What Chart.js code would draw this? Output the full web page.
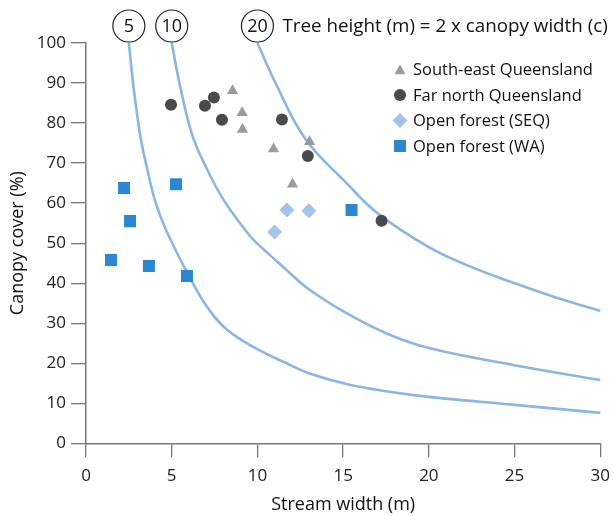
<!DOCTYPE html>
<html>
<head>
<meta charset="utf-8">
<script src="https://cdn.jsdelivr.net/npm/chart.js@4.4.1/dist/chart.umd.min.js"></script>
<style>
  html, body { margin: 0; padding: 0; background: #fff; }
  #wrap { width: 614px; height: 516px; }
</style>
</head>
<body>
<div id="wrap"><canvas id="myChart"></canvas></div>
<script>
// scatter series
const seQldX = [8.55, 9.11, 9.13, 10.94, 12.05, 13.04];
const seQldY = [88.1, 82.6, 78.4, 73.5, 64.7, 75.3];
const farNorthX = [4.96, 6.94, 7.46, 7.93, 11.43, 12.94, 17.24];
const farNorthY = [84.6, 84.3, 86.4, 80.8, 80.9, 71.8, 55.6];
const openSeqX = [11.0, 11.72, 13.0];
const openSeqY = [52.8, 58.3, 58.1];
const openWaX = [2.22, 2.57, 1.46, 3.67, 5.89, 5.25, 15.49];
const openWaY = [63.8, 55.5, 45.8, 44.3, 41.8, 64.7, 58.3];

// the three reference curves
const curve5X = [2.5, 2.8, 3.2, 3.6, 4, 4.5, 5, 5.8, 7, 8.2, 10, 11.7, 13, 15.2, 17.5, 20, 25, 30];
const curve5Y = [100, 88, 76, 68, 61, 55, 50.3, 43.5, 34.5, 28.5, 23.5, 20, 17.5, 14.8, 13, 11.6, 9.6, 7.6];
const curve10X = [5, 5.5, 6.2, 7, 8, 9.3, 9.8, 11.7, 13, 15.2, 17.5, 20, 25, 30];
const curve10Y = [100, 89, 77, 69, 61, 53.2, 50.7, 43.3, 38.5, 32.5, 27.5, 23.8, 19.5, 15.8];
const curve20X = [10, 11, 12.8, 15.2, 17, 20, 22.5, 25, 27.5, 30];
const curve20Y = [100, 90.5, 76, 65, 57.5, 49, 44, 40, 36.3, 33.1];

const curveLabels = ['5', '10', '20'];
const curveTitle = 'Tree height (m) = 2 x canopy width (c)';
const seriesNames = ['South-east Queensland', 'Far north Queensland', 'Open forest (SEQ)', 'Open forest (WA)'];

const xTitle = 'Stream width (m)';
const yTitle = 'Canopy cover (%)';

const FONT = '"Open Sans", "Noto Sans", sans-serif';

function toPoints(xs, ys) {
    return xs.map((x, i) => ({ x: x, y: ys[i] }));
}

const curveColor = '#8ab6e4';
const markerStyles = [
    { style: 'triangle', radius: 6.5, color: '#9b9b9b' },
    { style: 'circle', radius: 6, color: '#4a4a4a' },
    { style: 'rectRot', radius: 7.5, color: '#a3c3ea' },
    { style: 'rect', radius: 8.5, color: '#2b88d0' }
];

function markerSet(label, xs, ys, m) {
    return {
        label: label,
        data: toPoints(xs, ys),
        pointStyle: m.style,
        pointRadius: m.radius,
        pointHoverRadius: m.radius,
        pointBackgroundColor: m.color,
        pointBorderColor: m.color,
        pointBorderWidth: 0,
        showLine: false
    };
}

function curveSet(label, xs, ys) {
    return {
        label: label,
        data: toPoints(xs, ys),
        showLine: true,
        borderColor: curveColor,
        borderWidth: 2.6,
        pointRadius: 0,
        tension: 0.4,
        clip: false
    };
}

const curves = [toPoints(curve5X, curve5Y), toPoints(curve10X, curve10Y), toPoints(curve20X, curve20Y)];

// draws a marker shape (used for the legend)
function drawMarker(ctx, m, x, y) {
    const r = m.radius;
    ctx.fillStyle = m.color;
    ctx.beginPath();
    if (m.style === 'triangle') {
        ctx.moveTo(x, y - r);
        ctx.lineTo(x + r * Math.sin(2 * Math.PI / 3), y - r * Math.cos(2 * Math.PI / 3));
        ctx.lineTo(x + r * Math.sin(4 * Math.PI / 3), y - r * Math.cos(4 * Math.PI / 3));
    } else if (m.style === 'circle') {
        ctx.arc(x, y, r, 0, Math.PI * 2);
    } else if (m.style === 'rectRot') {
        ctx.moveTo(x - r, y);
        ctx.lineTo(x, y - r);
        ctx.lineTo(x + r, y);
        ctx.lineTo(x, y + r);
    } else {
        const s = r * Math.SQRT1_2;
        ctx.rect(x - s, y - s, 2 * s, 2 * s);
    }
    ctx.closePath();
    ctx.fill();
}

const annotations = {
    id: 'annotations',
    afterDraw(chart) {
        const { ctx, chartArea, scales: { x } } = chart;
        ctx.save();

        // circled curve labels above the plot
        const cy = chartArea.top - 17;
        ctx.font = '18px ' + FONT;
        ctx.textBaseline = 'middle';
        ctx.textAlign = 'center';
        let lastX = 0;
        curveLabels.forEach((label, i) => {
            const cx = x.getPixelForValue(curves[i][0].x);
            ctx.beginPath();
            ctx.arc(cx, cy, 16, 0, Math.PI * 2);
            ctx.fillStyle = '#fff';
            ctx.fill();
            ctx.strokeStyle = '#222';
            ctx.lineWidth = 1.2;
            ctx.stroke();
            ctx.fillStyle = '#111';
            ctx.fillText(label, cx, cy + 1);
            lastX = cx;
        });
        ctx.textAlign = 'left';
        ctx.font = '18.8px ' + FONT;
        ctx.fillText(curveTitle, lastX + 25, cy + 1);

        // legend
        ctx.font = '16.5px ' + FONT;
        const lx = 400;
        const rows = [69.5, 95, 120.5, 146];
        seriesNames.forEach((name, i) => {
            drawMarker(ctx, markerStyles[i], lx, rows[i] + (i === 0 ? 1.5 : 0));
            ctx.fillStyle = '#111';
            ctx.fillText(name, lx + 13, rows[i] + 1);
        });
        ctx.restore();
    }
};

const ctx = document.getElementById('myChart').getContext('2d');

new Chart(ctx, {
    type: 'scatter',
    data: {
        datasets: [
            markerSet(seriesNames[0], seQldX, seQldY, markerStyles[0]),
            markerSet(seriesNames[1], farNorthX, farNorthY, markerStyles[1]),
            markerSet(seriesNames[2], openSeqX, openSeqY, markerStyles[2]),
            markerSet(seriesNames[3], openWaX, openWaY, markerStyles[3]),
            curveSet('5', curve5X, curve5Y),
            curveSet('10', curve10X, curve10Y),
            curveSet('20', curve20X, curve20Y)
        ]
    },
    options: {
        responsive: true,
        maintainAspectRatio: false,
        animation: false,
        layout: { padding: { top: 43, right: 13.5, left: 0, bottom: 0 } },
        plugins: {
            legend: { display: false },
            tooltip: { enabled: false }
        },
        scales: {
            x: {
                type: 'linear',
                min: 0,
                max: 30,
                ticks: { stepSize: 5, color: '#222', padding: 4, font: { family: FONT, size: 17, lineHeight: 1.7 } },
                grid: { drawOnChartArea: false, tickLength: 14, color: '#777', lineWidth: 1.3 },
                border: { color: '#777', width: 1.5 },
                title: { display: true, text: xTitle, color: '#111', padding: { top: 0, bottom: 0 }, font: { family: FONT, size: 18 } },
                afterFit: (scale) => { scale.height = 72.7; }
            },
            y: {
                min: 0,
                max: 100,
                ticks: { stepSize: 10, color: '#222', padding: 5, font: { family: FONT, size: 17 } },
                grid: { drawOnChartArea: false, tickLength: 15, color: '#777', lineWidth: 1.3 },
                border: { color: '#777', width: 1.5 },
                title: { display: true, text: yTitle, color: '#111', padding: { top: 7, bottom: 0 }, font: { family: FONT, size: 18 } },
                afterFit: (scale) => { scale.width = 86; }
            }
        }
    },
    plugins: [annotations]
});
</script>
</body>
</html>
